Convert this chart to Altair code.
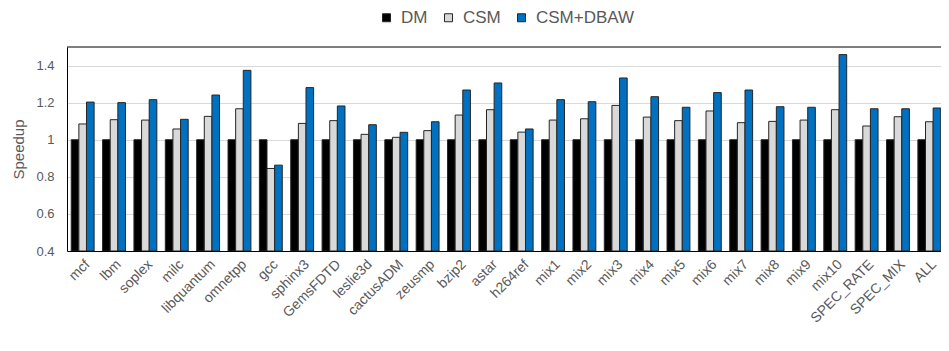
import altair as alt
import pandas as pd

categories = ["mcf", "lbm", "soplex", "milc", "libquantum", "omnetpp", "gcc", "sphinx3",
              "GemsFDTD", "leslie3d", "cactusADM", "zeusmp", "bzip2", "astar", "h264ref",
              "mix1", "mix2", "mix3", "mix4", "mix5", "mix6", "mix7", "mix8", "mix9", "mix10",
              "SPEC_RATE", "SPEC_MIX", "ALL"]
series = ["DM", "CSM", "CSM+DBAW"]
dm = [1.0] * len(categories)
csm = [1.085, 1.108, 1.106, 1.058, 1.126, 1.167, 0.845, 1.088, 1.103, 1.029, 1.013, 1.049,
       1.133, 1.162, 1.041, 1.106, 1.113, 1.185, 1.122, 1.103, 1.155, 1.092, 1.099, 1.106,
       1.162, 1.074, 1.124, 1.097]
dbaw = [1.203, 1.200, 1.216, 1.110, 1.241, 1.374, 0.863, 1.281, 1.182, 1.081, 1.040, 1.097,
        1.268, 1.306, 1.058, 1.216, 1.205, 1.333, 1.232, 1.175, 1.254, 1.268, 1.178, 1.175,
        1.459, 1.167, 1.167, 1.171]
colors = ["#000000", "#d9d9d9", "#0070c0"]
y_ticks = [0.4, 0.6, 0.8, 1.0, 1.2, 1.4]

rows = []
for name, vals in zip(series, [dm, csm, dbaw]):
    for c, v in zip(categories, vals):
        rows.append({"bench": c, "series": name, "value": v})
df = pd.DataFrame(rows)

W = 874
H = 204
XRANGE = 878
FONT = "Liberation Sans"
TXT = "#595959"

bars = alt.Chart(df).mark_bar(stroke="#262626", strokeWidth=1, clip=True).encode(
    x=alt.X("bench:N", sort=categories,
            scale=alt.Scale(range=[0, XRANGE], paddingInner=0.27, paddingOuter=0.135),
            axis=alt.Axis(title=None, labelAngle=-45, ticks=False, labelPadding=6,
                          labelFontSize=14, labelFont=FONT, labelColor=TXT,
                          domainColor="#000000", domainWidth=1, grid=False, labelOverlap=False)),
    xOffset=alt.XOffset("series:N", sort=series, scale=alt.Scale(paddingInner=0)),
    y=alt.Y("value:Q", scale=alt.Scale(domain=[0.4, 1.5], zero=False, nice=False),
            axis=alt.Axis(title="Speedup", values=y_ticks, format="~g", ticks=False,
                          labelPadding=13, labelFontSize=13, labelFont=FONT, labelColor=TXT,
                          titleFont=FONT, titleFontSize=15, titleFontWeight="normal",
                          titleColor=TXT, titleX=-44, titleY=H / 2, titleAngle=-90,
                          titleAlign="center", titleBaseline="alphabetic",
                          gridColor="#d9d9d9", gridWidth=1,
                          domainColor="#000000", domainWidth=1)),
    y2=alt.datum(0.4),
    color=alt.Color("series:N", sort=series,
                    scale=alt.Scale(domain=series, range=colors),
                    legend=alt.Legend(title=None, orient="none", direction="horizontal",
                                      legendX=311, legendY=-38, symbolType="square",
                                      symbolSize=64, symbolStrokeColor="#262626",
                                      symbolStrokeWidth=1, labelFontSize=17, labelFont=FONT,
                                      labelColor=TXT, columnPadding=12, labelOffset=6)),
)

top = alt.Chart(pd.DataFrame({"y": [1.5]})).mark_rule(color="#000000", strokeWidth=1).encode(
    y=alt.Y("y:Q")
)

chart = alt.layer(bars, top).properties(
    width=W, height=H,
    autosize=alt.AutoSizeParams(type="none"),
    padding={"left": 59, "top": 39, "right": 0, "bottom": 84},
).configure_view(stroke=None)

chart.save("out.html", embed_options={"renderer": "svg", "actions": False})
